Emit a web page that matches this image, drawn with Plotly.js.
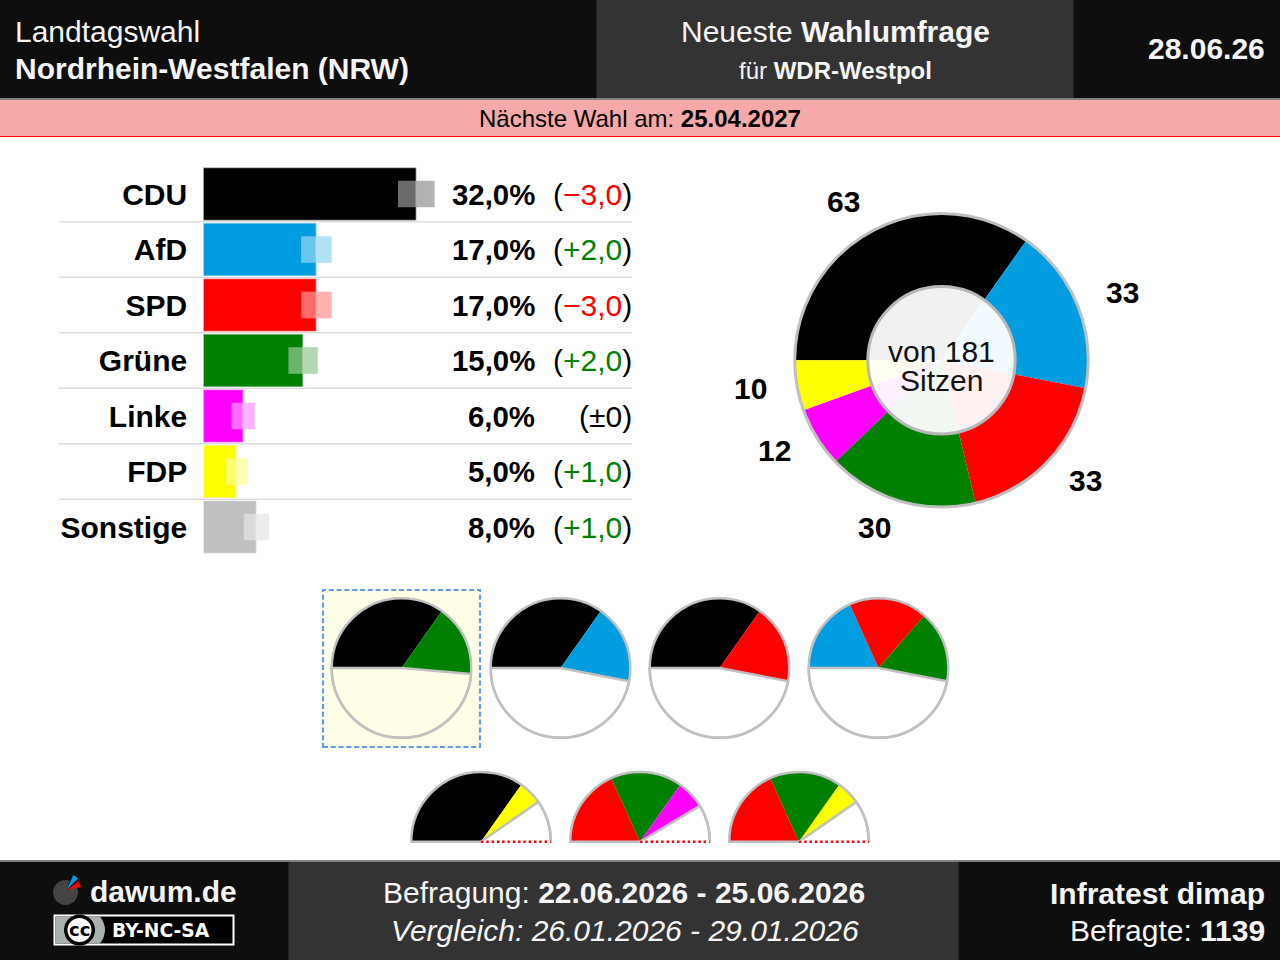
<!DOCTYPE html>
<html><head><meta charset="utf-8">
<script src="https://cdn.plot.ly/plotly-3.0.1.min.js"></script>
<style>html,body{margin:0;padding:0;background:#fff}#c{width:1280px;height:960px}</style>
</head><body><div id="c"></div>
<script>
const parties = ['CDU','AfD','SPD','Grüne','Linke','FDP','Sonstige'];
const shares = [32,17,17,15,6,5,8];
const margins = [2.75,2.3,2.3,2.2,1.75,1.65,1.9];
const shareLabels = ['32,0%','17,0%','17,0%','15,0%','6,0%','5,0%','8,0%'];
const changes = ['−3,0','+2,0','−3,0','+2,0','±0','+1,0','+1,0'];
const changeColors = ['#ff0000','#008000','#ff0000','#008000','#000000','#008000','#008000'];
const partyColors = ['#000000','#009ee0','#ff0000','#008000','#ff00ff','#ffff00','#c0c0c0'];
const partyRgb = ['0,0,0','0,158,224','255,0,0','0,128,0','255,0,255','255,255,0','192,192,192'];
const seatParties = ['CDU','AfD','SPD','Grüne','Linke','FDP'];
const seats = [63,33,33,30,12,10];
const seatColors = {CDU:'#000000',AfD:'#009ee0',SPD:'#ff0000','Grüne':'#008000',Linke:'#ff00ff',FDP:'#ffff00'};
const seatLabelPos = [[843,201.5],[1122,292],[1085,480],[874,527],[774.5,451],[750.5,388]];
const coalitionsMajority = [['CDU','Grüne'],['CDU','AfD'],['CDU','SPD'],['AfD','SPD','Grüne']];
const coalitionsMinority = [['CDU','FDP'],['SPD','Grüne','Linke'],['SPD','Grüne','FDP']];
const row1X = [401.5,560.5,719.5,878.5];
const row2X = [481,640,799];

const W=1280,H=960;
const px=x=>x/W, py=y=>1-y/H;
const FONT='"Liberation Sans", Arial, sans-serif';
const seatOf=p=>seats[seatParties.indexOf(p)];
const total=seats.reduce((a,b)=>a+b,0);

const shapes=[];
const rect=(x0,y0,x1,y1,fill,line,layer)=>shapes.push({type:'rect',xref:'paper',yref:'paper',x0:px(x0),x1:px(x1),y0:py(y1),y1:py(y0),fillcolor:fill,line:line||{width:0},layer:layer||'below'});
const hline=(x0,x1,y,color,w,dash)=>shapes.push({type:'line',xref:'paper',yref:'paper',x0:px(x0),x1:px(x1),y0:py(y),y1:py(y),line:{color,width:w,dash:dash||'solid'},layer:'above'});
const poly=(pts,fill)=>shapes.push({type:'path',xref:'paper',yref:'paper',path:pts.map((p,i)=>(i?'L':'M')+px(p[0])+','+py(p[1])).join(' ')+' Z',fillcolor:fill,line:{width:0},layer:'above'});
const circ=(cx,cy,r,fill,lc,lw)=>shapes.push({type:'circle',xref:'paper',yref:'paper',x0:px(cx-r),x1:px(cx+r),y0:py(cy+r),y1:py(cy-r),fillcolor:fill,line:{color:lc,width:lw},layer:'above'});

// header / footer bands
rect(0,0,1280,98,'#0e0e0e');
rect(596.5,0,1073.5,98,'#333333');
rect(0,98,1280,100,'#808080');
rect(0,100,1280,136,'#f5a9a9');
rect(0,136,1280,137,'#ff0000');
rect(0,860,1280,862,'#808080');
rect(0,862,1280,960,'#0e0e0e');
rect(288.5,862,958.5,960,'#333333');
// highlighted coalition box
rect(323,590,480,747,'#ffffe8',{color:'#6699ee',width:2.2,dash:'5px,2.8px'});

// row separators
parties.slice(0,-1).forEach((p,i)=>shapes.push({type:'line',xref:'paper',yref:'y',x0:px(59),x1:px(632),y0:i+0.5,y1:i+0.5,line:{color:'#dddddd',width:1.5},layer:'above'}));

const data=[];
// bars
const barBase={type:'bar',orientation:'h',y:parties,hoverinfo:'skip',xaxis:'x',yaxis:'y'};
data.push(Object.assign({},barBase,{x:shares,width:0.955,marker:{color:partyColors,line:{color:'rgba(255,255,255,0.5)',width:1.5}}}));
data.push(Object.assign({},barBase,{x:margins,base:shares.map((v,i)=>v-margins[i]),width:0.48,marker:{color:'rgba(255,255,255,0.42)',line:{width:0}}}));
data.push(Object.assign({},barBase,{x:margins,base:shares,width:0.48,marker:{color:partyRgb.map(c=>'rgba('+c+',0.3)'),line:{width:0}}}));

const dom=(cx,cy,r)=>({x:[px(cx-r),px(cx+r)],y:[py(cy+r),py(cy-r)]});
const pieBase={type:'pie',sort:false,direction:'clockwise',rotation:270,textinfo:'none',hoverinfo:'skip',showlegend:false};
// main seat donut
data.push(Object.assign({},pieBase,{values:seats,labels:seatParties,domain:dom(941.5,360.3,146.8),marker:{colors:seatParties.map(p=>seatColors[p]),line:{width:0}}}));
circ(941.5,360.3,146.8,'rgba(0,0,0,0)','#c0c0c0',3);
circ(941.5,360.3,73.7,'rgba(255,255,255,0.945)','#b8b8b8',3);

const GR='#c0c0c0';
function coalition(list,cx,cy,r,half){
  const sum=list.reduce((a,p)=>a+seatOf(p),0);
  const vals=list.map(seatOf), labs=list.slice(), cols=list.map(p=>seatColors[p]), lw=list.map(()=>0), lc=list.map(()=>GR);
  if(half){
    vals.push(total/2-sum,total/2);labs.push('Rest','unten');cols.push('#ffffff','rgba(0,0,0,0)');lw.push(2.5,0);lc.push(GR,GR);
  }else{
    vals.push(total-sum);labs.push('Rest');cols.push('rgba(0,0,0,0)');lw.push(2.5);lc.push(GR);
  }
  data.push(Object.assign({},pieBase,{values:vals,labels:labs,domain:dom(cx,cy,r),marker:{colors:cols,line:{width:lw,color:lc}}}));
  if(half){
    data.push(Object.assign({},pieBase,{values:[1,1],labels:['oben','unten'],domain:dom(cx,cy,r),marker:{colors:['rgba(0,0,0,0)','rgba(0,0,0,0)'],line:{width:[2.5,0],color:[GR,GR]}}}));
    hline(cx,cx+r,cy,'#ffffff',3);
    hline(cx,cx+r,cy,'#ff0000',2.4,'2.4px,2.9px');
  }else{
    circ(cx,cy,r,'rgba(0,0,0,0)',GR,2.5);
  }
}
coalitionsMajority.forEach((c,i)=>coalition(c,row1X[i],668,69.8,false));
coalitionsMinority.forEach((c,i)=>coalition(c,row2X[i],841.7,69.8,true));

// logo
circ(65.5,892.5,12.5,'#444444','#444444',0);
poly([[66.7,890],[70.5,878],[81,884]],'#0e0e0e');
poly([[66.7,890],[78,878.3],[73.3,875]],'#009ee0');
poly([[66.7,890],[81,886.7],[78.7,881]],'#ff0000');
// CC badge
rect(54.5,915.5,233.5,944.5,'#000000',{color:'#ffffff',width:2},'above');
shapes.push({type:'path',xref:'paper',yref:'paper',layer:'above',fillcolor:'#aab0ab',line:{width:0},
  path:`M${px(55.5)},${py(916.5)} L${px(100)},${py(916.5)} Q${px(110)},${py(930)} ${px(100)},${py(943.5)} L${px(55.5)},${py(943.5)} Z`});
circ(79.5,930,15.5,'#000000','#000000',0);
circ(79.5,930,12,'#ffffff','#ffffff',0);

const ann=[];
function T(x,y,html,size,anchor,color,extra){
  ann.push(Object.assign({xref:'paper',yref:'paper',x:px(x),y:py(y),text:html,showarrow:false,xanchor:anchor||'left',yanchor:'middle',
    font:{family:FONT,size:size,color:color||'#000000'},borderpad:0,borderwidth:0},extra||{}));
}
const wh='#f5f5f5';
T(15,32,'Landtagswahl',30,'left',wh);
T(15,68.5,'<b>Nordrhein-Westfalen (NRW)</b>',30,'left',wh);
T(835,32,'Neueste <b>Wahlumfrage</b>',30,'center',wh);
T(835,70.5,'für <b>WDR-Westpol</b>',24,'center',wh);
T(1265,49,'<b>28.06.26</b>',30,'right',wh);
T(640,118.5,'Nächste Wahl am: <b>25.04.2027</b>',24,'center','#000000');

parties.forEach((p,i)=>{
  ann.push({xref:'paper',yref:'y',x:px(536.5),y:p,text:'<b>'+shareLabels[i]+'</b>',showarrow:false,xanchor:'right',yanchor:'middle',font:{family:FONT,size:29.4,color:'#000'}});
  ann.push({xref:'paper',yref:'y',x:px(634),y:p,text:'(<span style="color:'+changeColors[i]+'">'+changes[i]+'</span>)',showarrow:false,xanchor:'right',yanchor:'middle',font:{family:FONT,size:30,color:'#000'}});
});
seats.forEach((s,i)=>T(seatLabelPos[i][0],seatLabelPos[i][1],'<b>'+s+'</b>',30,'center','#000'));
T(941.5,351,'von '+total,30,'center','#111');
T(941.5,380.8,'Sitzen',30,'center','#111');

T(90,891.5,'<b>dawum.de</b>',30,'left',wh);
T(79.5,929.5,'<b>cc</b>',18,'center','#000',{font:{family:'"DejaVu Sans"',size:18,color:'#000'}});
T(112,930,'<b>BY-NC-SA</b>',18.7,'left','#fff',{font:{family:'"DejaVu Sans"',size:18.7,color:'#fff'}});
T(623.5,892.5,'Befragung: <b>22.06.2026 - 25.06.2026</b>',30,'center',wh);
T(624.5,930,'<i>Vergleich: 26.01.2026 - 29.01.2026</i>',30,'center',wh);
T(1265,893.5,'<b>Infratest dimap</b>',30,'right',wh);
T(1265,930,'Befragte: <b>1139</b>',30,'right',wh);

const scale=6.66, x0=203.2, x1=632;
const layout={width:W,height:H,margin:{l:0,r:0,t:0,b:0,pad:0},paper_bgcolor:'#ffffff',plot_bgcolor:'rgba(0,0,0,0)',showlegend:false,barmode:'overlay',
  font:{family:FONT},
  xaxis:{domain:[px(x0),px(x1)],range:[0,(x1-x0)/scale],visible:false,fixedrange:true},
  yaxis:{domain:[py(554.75),py(166.25)],type:'category',categoryorder:'array',categoryarray:parties,range:[6.5,-0.5],showgrid:false,zeroline:false,showline:false,ticks:'',ticklabelstandoff:15,
    tickfont:{family:FONT,size:30,color:'#000',weight:700},fixedrange:true,automargin:false,anchor:'x'},
  shapes:shapes,annotations:ann};
Plotly.newPlot('c',data,layout,{displayModeBar:false,staticPlot:true});
</script></body></html>
